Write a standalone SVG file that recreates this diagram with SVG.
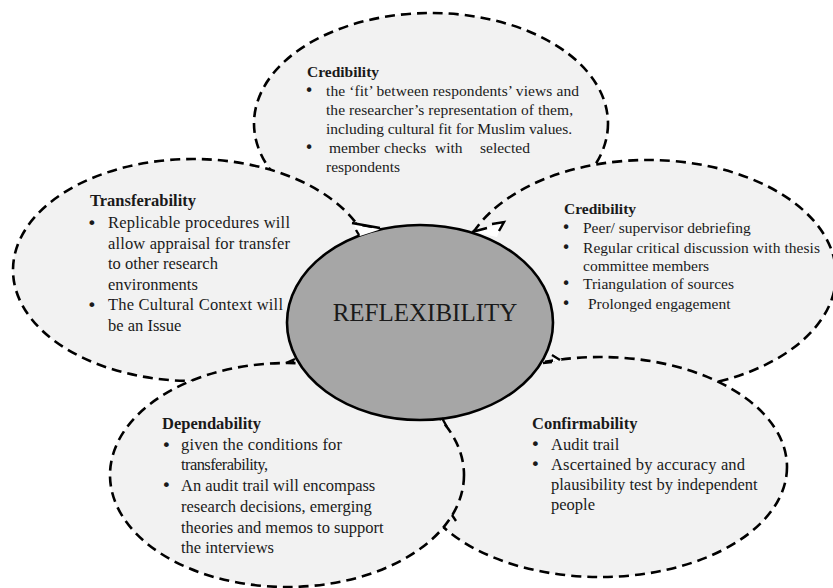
<svg xmlns="http://www.w3.org/2000/svg" width="833" height="588" viewBox="0 0 833 588">
<style>
.petal{fill:#f2f2f2;stroke:#000;stroke-width:2.6;stroke-dasharray:10 6}
.core{fill:#a6a6a6;stroke:#000;stroke-width:2.6}
.tick{fill:none;stroke:#000;stroke-width:2.4}
.gap{fill:#fff;stroke:none}
text{font-family:"Liberation Serif","Times New Roman",serif;fill:#1a1a1a}
text.b{font-family:"DejaVu Sans",sans-serif}
.t{font-weight:bold}
.s{font-size:15.5px}
.m{font-size:16.5px}
.big{font-size:25px}
</style>
<rect width="833" height="588" fill="#fff"/>
<g id="credibility-top">
<ellipse class="petal" cx="431" cy="123.5" rx="177" ry="110.5"/>
<text class="s t" x="307" y="76.5">Credibility</text>
<g class="s">
<text class="b" x="304.5" y="96">•</text>
<text x="326" y="96" textLength="253">the ‘fit’ between  respondents’ views and</text>
<text x="326" y="115" textLength="247">the researcher’s representation of  them,</text>
<text x="326" y="133.5" textLength="246">including  cultural  fit  for Muslim  values.</text>
<text class="b" x="304.5" y="152.5">•</text>
<text y="152.5"><tspan x="329">member</tspan><tspan x="384">checks</tspan><tspan x="435">with</tspan><tspan x="480">selected</tspan></text>
<text x="326" y="171.5">respondents</text>
</g>
</g>
<g id="transferability">
<ellipse class="petal" cx="193" cy="270" rx="180" ry="111"/>
<text class="m t" x="90" y="205.5">Transferability</text>
<g class="m">
<text class="b" x="87" y="228.5">•</text>
<text x="108" y="228" textLength="182">Replicable procedures will</text>
<text x="108" y="248.5" textLength="182">allow appraisal for transfer</text>
<text x="108" y="269">to other research</text>
<text x="108" y="289.5">environments</text>
<text class="b" x="87" y="310.5">•</text>
<text x="108" y="310" textLength="175">The Cultural Context will</text>
<text x="108" y="330.5">be an Issue</text>
</g>
</g>
<g id="credibility-right">
<ellipse class="petal" cx="648" cy="275" rx="188" ry="115"/>
<text class="s t" x="564" y="214">Credibility</text>
<g class="s">
<text class="b" x="561.5" y="232.5">•</text>
<text x="583" y="232.5">Peer/ supervisor debriefing</text>
<text class="b" x="561.5" y="252.5">•</text>
<text x="583" y="252.5" textLength="237">Regular critical discussion with  thesis</text>
<text x="583" y="271">committee members</text>
<text class="b" x="561.5" y="289">•</text>
<text x="583" y="289">Triangulation  of sources</text>
<text class="b" x="561.5" y="308.5">•</text>
<text x="588" y="308.5">Prolonged engagement</text>
</g>
</g>
<g id="confirmability">
<ellipse class="petal" cx="600" cy="467" rx="187" ry="110"/>
<text class="m t" x="532" y="429">Confirmability</text>
<g class="m">
<text class="b" x="530.5" y="450">•</text>
<text x="551" y="449.5">Audit trail</text>
<text class="b" x="530.5" y="470">•</text>
<text x="551" y="469.5" textLength="194">Ascertained by accuracy and</text>
<text x="551" y="490">plausibility test by independent</text>
<text x="551" y="510">people</text>
</g>
</g>
<g id="dependability">
<ellipse class="petal" cx="287" cy="475" rx="177" ry="112"/>
<text class="m t" x="162" y="429">Dependability</text>
<g class="m">
<text class="b" x="161.5" y="450.5">•</text>
<text x="181" y="450" textLength="161">given the conditions  for</text>
<text x="181" y="469.5" textLength="87">transferability,</text>
<text class="b" x="161.5" y="491">•</text>
<text x="181" y="490.5">An audit trail will encompass</text>
<text x="181" y="511.5">research decisions, emerging</text>
<text x="181" y="532.5">theories and memos  to support</text>
<text x="181" y="552.5">the interviews</text>
</g>
</g>
<g id="reflexibility">
<ellipse class="core" cx="420" cy="322.5" rx="133" ry="97.5"/>
<text class="big" x="425" y="320.5" text-anchor="middle">REFLEXIBILITY</text>
</g>
<g id="connectors">
<polygon class="gap" points="354,225 380,229.5 360,236"/>
<path class="tick" d="M352,223 L380,228 M356,230 L359,235"/>
<polygon class="gap" points="474,232 502,223 497,237"/>
<path class="tick" d="M472,232 L487,228 M492,224 L504,222 L499,231"/>
<polygon class="gap" points="553,353 562,360 553,362"/>
<path class="tick" d="M552,355 L560,360 M543,363 L552,362"/>
<path class="tick" d="M286,363 L295,359"/>
<path class="tick" d="M442,418 L447,427 M452,515 L456,521"/>
</g>
</svg>
